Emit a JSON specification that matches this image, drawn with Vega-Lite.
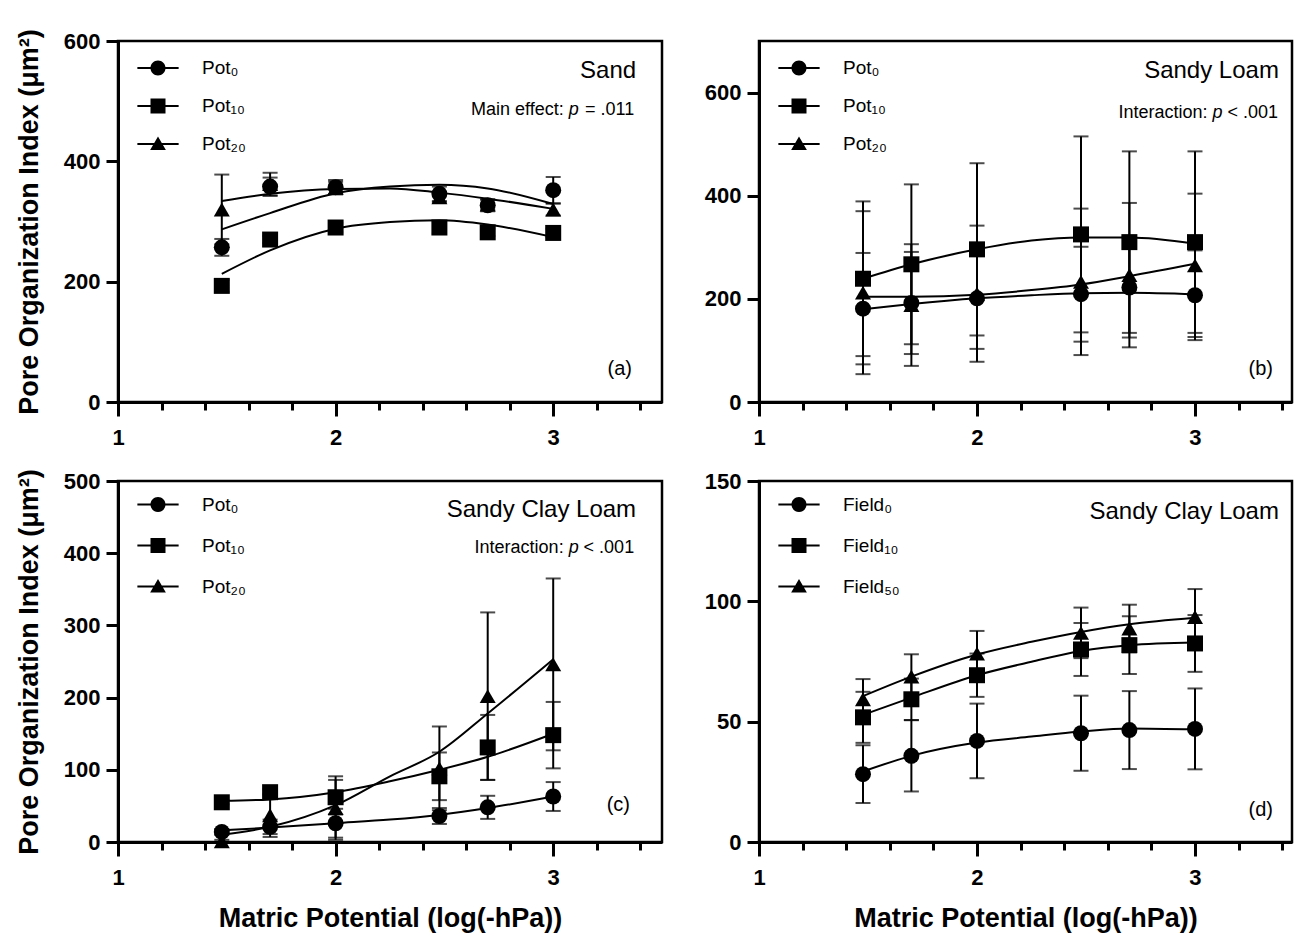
{
  "$schema": "https://vega.github.io/schema/vega-lite/v6.json",
  "background": "white",
  "padding": {"left": 14, "top": 27, "right": 0, "bottom": 0},
  "datasets": {
    "pts": [
      {"p":"a","s":"Pot₀","x":1.477,"v":257,"e":14},{"p":"a","s":"Pot₀","x":1.699,"v":358,"e":15},{"p":"a","s":"Pot₀","x":2,"v":357,"e":12},{"p":"a","s":"Pot₀","x":2.477,"v":346,"e":12},{"p":"a","s":"Pot₀","x":2.699,"v":327,"e":10},{"p":"a","s":"Pot₀","x":3,"v":352,"e":22},
      {"p":"a","s":"Pot₁₀","x":1.477,"v":193,"e":10},{"p":"a","s":"Pot₁₀","x":1.699,"v":270,"e":6},{"p":"a","s":"Pot₁₀","x":2,"v":290,"e":8},{"p":"a","s":"Pot₁₀","x":2.477,"v":290,"e":10},{"p":"a","s":"Pot₁₀","x":2.699,"v":282,"e":6},{"p":"a","s":"Pot₁₀","x":3,"v":281,"e":7},
      {"p":"a","s":"Pot₂₀","x":1.477,"v":320,"e":58},{"p":"a","s":"Pot₂₀","x":1.699,"v":362,"e":19},{"p":"a","s":"Pot₂₀","x":2,"v":356,"e":10},{"p":"a","s":"Pot₂₀","x":2.477,"v":340,"e":8},{"p":"a","s":"Pot₂₀","x":2.699,"v":328,"e":8},{"p":"a","s":"Pot₂₀","x":3,"v":320,"e":10},
      {"p":"b","s":"Pot₀","x":1.477,"v":181,"e":108},{"p":"b","s":"Pot₀","x":1.699,"v":192,"e":99},{"p":"b","s":"Pot₀","x":2,"v":201,"e":98},{"p":"b","s":"Pot₀","x":2.477,"v":209,"e":92},{"p":"b","s":"Pot₀","x":2.699,"v":222,"e":97},{"p":"b","s":"Pot₀","x":3,"v":207,"e":87},
      {"p":"b","s":"Pot₁₀","x":1.477,"v":239,"e":150},{"p":"b","s":"Pot₁₀","x":1.699,"v":267,"e":155},{"p":"b","s":"Pot₁₀","x":2,"v":296,"e":167},{"p":"b","s":"Pot₁₀","x":2.477,"v":325,"e":190},{"p":"b","s":"Pot₁₀","x":2.699,"v":310,"e":176},{"p":"b","s":"Pot₁₀","x":3,"v":310,"e":176},
      {"p":"b","s":"Pot₂₀","x":1.477,"v":212,"e":158},{"p":"b","s":"Pot₂₀","x":1.699,"v":188,"e":118},{"p":"b","s":"Pot₂₀","x":2,"v":210,"e":132},{"p":"b","s":"Pot₂₀","x":2.477,"v":233,"e":142},{"p":"b","s":"Pot₂₀","x":2.699,"v":246,"e":140},{"p":"b","s":"Pot₂₀","x":3,"v":265,"e":139},
      {"p":"c","s":"Pot₀","x":1.477,"v":14,"e":4},{"p":"c","s":"Pot₀","x":1.699,"v":21,"e":10},{"p":"c","s":"Pot₀","x":2,"v":26,"e":20},{"p":"c","s":"Pot₀","x":2.477,"v":36,"e":11},{"p":"c","s":"Pot₀","x":2.699,"v":48,"e":16},{"p":"c","s":"Pot₀","x":3,"v":63,"e":20},
      {"p":"c","s":"Pot₁₀","x":1.477,"v":55,"e":3},{"p":"c","s":"Pot₁₀","x":1.699,"v":69,"e":4},{"p":"c","s":"Pot₁₀","x":2,"v":62,"e":24},{"p":"c","s":"Pot₁₀","x":2.477,"v":91,"e":33},{"p":"c","s":"Pot₁₀","x":2.699,"v":131,"e":45},{"p":"c","s":"Pot₁₀","x":3,"v":148,"e":46},
      {"p":"c","s":"Pot₂₀","x":1.477,"v":1,"e":2},{"p":"c","s":"Pot₂₀","x":1.699,"v":37,"e":30},{"p":"c","s":"Pot₂₀","x":2,"v":47,"e":44},{"p":"c","s":"Pot₂₀","x":2.477,"v":102,"e":58},{"p":"c","s":"Pot₂₀","x":2.699,"v":202,"e":116},{"p":"c","s":"Pot₂₀","x":3,"v":246,"e":119},
      {"p":"d","s":"Field₀","x":1.477,"v":28.2,"e":12},{"p":"d","s":"Field₀","x":1.699,"v":35.8,"e":14.8},{"p":"d","s":"Field₀","x":2,"v":42,"e":15.5},{"p":"d","s":"Field₀","x":2.477,"v":45.2,"e":15.6},{"p":"d","s":"Field₀","x":2.699,"v":46.5,"e":16.2},{"p":"d","s":"Field₀","x":3,"v":47,"e":16.8},
      {"p":"d","s":"Field₁₀","x":1.477,"v":51.8,"e":10.6},{"p":"d","s":"Field₁₀","x":1.699,"v":59.3,"e":8.6},{"p":"d","s":"Field₁₀","x":2,"v":69.3,"e":9},{"p":"d","s":"Field₁₀","x":2.477,"v":80,"e":11},{"p":"d","s":"Field₁₀","x":2.699,"v":81.8,"e":12},{"p":"d","s":"Field₁₀","x":3,"v":82.5,"e":11.8},
      {"p":"d","s":"Field₅₀","x":1.477,"v":59.3,"e":8.4},{"p":"d","s":"Field₅₀","x":1.699,"v":68.7,"e":9.3},{"p":"d","s":"Field₅₀","x":2,"v":78.3,"e":9.4},{"p":"d","s":"Field₅₀","x":2.477,"v":86.9,"e":10.5},{"p":"d","s":"Field₅₀","x":2.699,"v":88.7,"e":9.9},{"p":"d","s":"Field₅₀","x":3,"v":93.5,"e":11.6}
    ],
    "fit": [
      {"p":"a","s":"Pot₀","x":1.477,"v":287},{"p":"a","s":"Pot₀","x":1.699,"v":314},{"p":"a","s":"Pot₀","x":2,"v":347},{"p":"a","s":"Pot₀","x":2.25,"v":358},{"p":"a","s":"Pot₀","x":2.477,"v":361},{"p":"a","s":"Pot₀","x":2.699,"v":355},{"p":"a","s":"Pot₀","x":3,"v":329},
      {"p":"a","s":"Pot₁₀","x":1.477,"v":213},{"p":"a","s":"Pot₁₀","x":1.699,"v":252},{"p":"a","s":"Pot₁₀","x":2,"v":288},{"p":"a","s":"Pot₁₀","x":2.25,"v":299},{"p":"a","s":"Pot₁₀","x":2.477,"v":302},{"p":"a","s":"Pot₁₀","x":2.699,"v":295},{"p":"a","s":"Pot₁₀","x":3,"v":274},
      {"p":"a","s":"Pot₂₀","x":1.477,"v":334},{"p":"a","s":"Pot₂₀","x":1.699,"v":346},{"p":"a","s":"Pot₂₀","x":2,"v":354},{"p":"a","s":"Pot₂₀","x":2.25,"v":355},{"p":"a","s":"Pot₂₀","x":2.477,"v":348},{"p":"a","s":"Pot₂₀","x":2.699,"v":338},{"p":"a","s":"Pot₂₀","x":3,"v":321},
      {"p":"b","s":"Pot₀","x":1.477,"v":180},{"p":"b","s":"Pot₀","x":1.699,"v":190},{"p":"b","s":"Pot₀","x":2,"v":201},{"p":"b","s":"Pot₀","x":2.25,"v":207},{"p":"b","s":"Pot₀","x":2.477,"v":211},{"p":"b","s":"Pot₀","x":2.699,"v":212},{"p":"b","s":"Pot₀","x":3,"v":209},
      {"p":"b","s":"Pot₁₀","x":1.477,"v":239},{"p":"b","s":"Pot₁₀","x":1.699,"v":267},{"p":"b","s":"Pot₁₀","x":2,"v":296},{"p":"b","s":"Pot₁₀","x":2.25,"v":313},{"p":"b","s":"Pot₁₀","x":2.477,"v":319},{"p":"b","s":"Pot₁₀","x":2.699,"v":319},{"p":"b","s":"Pot₁₀","x":3,"v":307},
      {"p":"b","s":"Pot₂₀","x":1.477,"v":204},{"p":"b","s":"Pot₂₀","x":1.699,"v":204},{"p":"b","s":"Pot₂₀","x":2,"v":208},{"p":"b","s":"Pot₂₀","x":2.25,"v":217},{"p":"b","s":"Pot₂₀","x":2.477,"v":228},{"p":"b","s":"Pot₂₀","x":2.699,"v":244},{"p":"b","s":"Pot₂₀","x":3,"v":268},
      {"p":"c","s":"Pot₀","x":1.477,"v":16},{"p":"c","s":"Pot₀","x":1.699,"v":20},{"p":"c","s":"Pot₀","x":2,"v":26},{"p":"c","s":"Pot₀","x":2.25,"v":31},{"p":"c","s":"Pot₀","x":2.477,"v":37.5},{"p":"c","s":"Pot₀","x":2.699,"v":47},{"p":"c","s":"Pot₀","x":3,"v":63},
      {"p":"c","s":"Pot₁₀","x":1.477,"v":57},{"p":"c","s":"Pot₁₀","x":1.699,"v":59},{"p":"c","s":"Pot₁₀","x":2,"v":69},{"p":"c","s":"Pot₁₀","x":2.25,"v":84},{"p":"c","s":"Pot₁₀","x":2.477,"v":100},{"p":"c","s":"Pot₁₀","x":2.699,"v":118},{"p":"c","s":"Pot₁₀","x":3,"v":150},
      {"p":"c","s":"Pot₂₀","x":1.477,"v":10},{"p":"c","s":"Pot₂₀","x":1.699,"v":21},{"p":"c","s":"Pot₂₀","x":2,"v":51},{"p":"c","s":"Pot₂₀","x":2.25,"v":91},{"p":"c","s":"Pot₂₀","x":2.477,"v":125},{"p":"c","s":"Pot₂₀","x":2.699,"v":178},{"p":"c","s":"Pot₂₀","x":3,"v":253},
      {"p":"d","s":"Field₀","x":1.477,"v":29.3},{"p":"d","s":"Field₀","x":1.699,"v":35.8},{"p":"d","s":"Field₀","x":2,"v":41.3},{"p":"d","s":"Field₀","x":2.25,"v":43.8},{"p":"d","s":"Field₀","x":2.477,"v":45.9},{"p":"d","s":"Field₀","x":2.699,"v":47.2},{"p":"d","s":"Field₀","x":3,"v":46.8},
      {"p":"d","s":"Field₁₀","x":1.477,"v":52.8},{"p":"d","s":"Field₁₀","x":1.699,"v":60},{"p":"d","s":"Field₁₀","x":2,"v":69.3},{"p":"d","s":"Field₁₀","x":2.25,"v":74.9},{"p":"d","s":"Field₁₀","x":2.477,"v":79.4},{"p":"d","s":"Field₁₀","x":2.699,"v":81.8},{"p":"d","s":"Field₁₀","x":3,"v":82.9},
      {"p":"d","s":"Field₅₀","x":1.477,"v":60.6},{"p":"d","s":"Field₅₀","x":1.699,"v":68.7},{"p":"d","s":"Field₅₀","x":2,"v":77.9},{"p":"d","s":"Field₅₀","x":2.25,"v":83.2},{"p":"d","s":"Field₅₀","x":2.477,"v":87.3},{"p":"d","s":"Field₅₀","x":2.699,"v":90.5},{"p":"d","s":"Field₅₀","x":3,"v":93.2}
    ]
  },
  "columns": 2,
  "spacing": {"row": 17, "column": 39},
  "resolve": {"scale": {"x": "independent", "y": "independent", "shape": "independent"}, "legend": {"shape": "independent"}},
  "concat": [
    {
      "width": 544, "height": 361,
      "resolve": {"scale": {"shape": "independent"}, "legend": {"shape": "independent"}},
      "layer": [
        {"data": {"name": "fit"}, "transform": [{"filter": "datum.p === 'a'"}],
         "mark": {"type": "line", "interpolate": "monotone", "color": "black", "strokeWidth": 2},
         "encoding": {
           "x": {"field": "x", "type": "quantitative", "title": null, "scale": {"domain": [1, 3.5], "nice": false, "zero": false},
                 "axis": {"values": [1,1.2,1.4,1.6,1.8,2,2.2,2.4,2.6,2.8,3,3.2,3.4], "labelExpr": "datum.value % 1 === 0 ? '' + datum.value : ''", "tickSize": {"condition": {"test": "datum.value % 1 === 0", "value": 14}, "value": 8}, "labelPadding": 11, "labelFlush": false, "labelOverlap": false}},
           "y": {"field": "v", "type": "quantitative", "title": "Pore Organization Index (μm²)", "scale": {"domain": [0, 600], "nice": false},
                 "axis": {"values": [0,200,400,600], "tickSize": 12, "labelPadding": 6, "titlePadding": 20, "labelFlush": false}},
           "detail": {"field": "s"}
         }},
        {"data": {"name": "pts"}, "transform": [{"filter": "datum.p === 'a'"}],
         "mark": {"type": "errorbar", "color": "black", "thickness": 2, "ticks": {"size": 15, "thickness": 2, "color": "black"}},
         "encoding": {"x": {"field": "x", "type": "quantitative", "title": null}, "y": {"field": "v", "type": "quantitative", "title": "Pore Organization Index (μm²)"}, "yError": {"field": "e"}}},
        {"data": {"name": "pts"}, "transform": [{"filter": "datum.p === 'a'"}],
         "mark": {"type": "point", "filled": true, "size": 256, "color": "black", "opacity": 1},
         "encoding": {"x": {"field": "x", "type": "quantitative", "title": null}, "y": {"field": "v", "type": "quantitative", "title": "Pore Organization Index (μm²)"},
           "shape": {"field": "s", "type": "nominal", "scale": {"domain": ["Pot₀","Pot₁₀","Pot₂₀"], "range": ["circle","square","triangle-up"]}, "legend": null}}},
        {"data": {"name": "pts"}, "transform": [{"filter": "datum.p === 'a'"}],
         "mark": {"type": "point", "filled": true, "size": 225, "color": "black", "opacity": 0},
         "encoding": {"x": {"field": "x", "type": "quantitative", "title": null}, "y": {"field": "v", "type": "quantitative", "title": "Pore Organization Index (μm²)"},
           "shape": {"field": "s", "type": "nominal", "scale": {"domain": ["Pot₀","Pot₁₀","Pot₂₀"], "range": ["M-2.75,-0.14H2.75V0.14H-2.75Z M1,0A1,1,0,1,1,-1,0A1,1,0,1,1,1,0Z", "M-2.75,-0.14H2.75V0.14H-2.75Z M-1,-1H1V1H-1Z", "M-2.75,-0.14H2.75V0.14H-2.75Z M0,-1L1.05,0.8H-1.05Z"]},
             "legend": {"orient": "none", "legendX": 30.5, "legendY": 17.5, "rowPadding": 15, "direction": "vertical"}}}},
        {"data": {"values": [{}]}, "mark": {"type": "text", "align": "right", "baseline": "middle", "fontSize": 24, "color": "black"},
         "encoding": {"x": {"datum": 3.381, "type": "quantitative"}, "y": {"datum": 550, "type": "quantitative"}, "text": {"value": "Sand"}}},
        {"data": {"values": [{}]}, "mark": {"type": "text", "align": "right", "baseline": "middle", "fontSize": 18, "color": "black"},
         "encoding": {"x": {"datum": 3.372, "type": "quantitative"}, "y": {"datum": 485, "type": "quantitative"}, "text": {"value": "= .011"}}},
        {"data": {"values": [{}]}, "mark": {"type": "text", "align": "right", "baseline": "middle", "fontSize": 18, "fontStyle": "italic", "color": "black", "dx": -55.5},
         "encoding": {"x": {"datum": 3.372, "type": "quantitative"}, "y": {"datum": 485, "type": "quantitative"}, "text": {"value": "p"}}},
        {"data": {"values": [{}]}, "mark": {"type": "text", "align": "right", "baseline": "middle", "fontSize": 18, "color": "black", "dx": -70.5},
         "encoding": {"x": {"datum": 3.372, "type": "quantitative"}, "y": {"datum": 485, "type": "quantitative"}, "text": {"value": "Main effect:"}}},
        {"data": {"values": [{}]}, "mark": {"type": "text", "align": "right", "baseline": "middle", "fontSize": 20, "color": "black"},
         "encoding": {"x": {"datum": 3.362, "type": "quantitative"}, "y": {"datum": 55, "type": "quantitative"}, "text": {"value": "(a)"}}}
      ]
    },
    {
      "width": 533, "height": 361,
      "resolve": {"scale": {"shape": "independent"}, "legend": {"shape": "independent"}},
      "layer": [
        {"data": {"name": "fit"}, "transform": [{"filter": "datum.p === 'b'"}],
         "mark": {"type": "line", "interpolate": "monotone", "color": "black", "strokeWidth": 2},
         "encoding": {
           "x": {"field": "x", "type": "quantitative", "title": null, "scale": {"domain": [1, 3.445], "nice": false, "zero": false},
                 "axis": {"values": [1,1.2,1.4,1.6,1.8,2,2.2,2.4,2.6,2.8,3,3.2,3.4], "labelExpr": "datum.value % 1 === 0 ? '' + datum.value : ''", "tickSize": {"condition": {"test": "datum.value % 1 === 0", "value": 14}, "value": 8}, "labelPadding": 11, "labelFlush": false, "labelOverlap": false}},
           "y": {"field": "v", "type": "quantitative", "title": null, "scale": {"domain": [0, 700], "nice": false},
                 "axis": {"values": [0,200,400,600], "tickSize": 12, "labelPadding": 6, "labelFlush": false}},
           "detail": {"field": "s"}
         }},
        {"data": {"name": "pts"}, "transform": [{"filter": "datum.p === 'b'"}],
         "mark": {"type": "errorbar", "color": "black", "thickness": 2, "ticks": {"size": 15, "thickness": 2, "color": "black"}},
         "encoding": {"x": {"field": "x", "type": "quantitative", "title": null}, "y": {"field": "v", "type": "quantitative", "title": null}, "yError": {"field": "e"}}},
        {"data": {"name": "pts"}, "transform": [{"filter": "datum.p === 'b'"}],
         "mark": {"type": "point", "filled": true, "size": 256, "color": "black", "opacity": 1},
         "encoding": {"x": {"field": "x", "type": "quantitative", "title": null}, "y": {"field": "v", "type": "quantitative", "title": null},
           "shape": {"field": "s", "type": "nominal", "scale": {"domain": ["Pot₀","Pot₁₀","Pot₂₀"], "range": ["circle","square","triangle-up"]}, "legend": null}}},
        {"data": {"name": "pts"}, "transform": [{"filter": "datum.p === 'b'"}],
         "mark": {"type": "point", "filled": true, "size": 225, "color": "black", "opacity": 0},
         "encoding": {"x": {"field": "x", "type": "quantitative", "title": null}, "y": {"field": "v", "type": "quantitative", "title": null},
           "shape": {"field": "s", "type": "nominal", "scale": {"domain": ["Pot₀","Pot₁₀","Pot₂₀"], "range": ["M-2.75,-0.14H2.75V0.14H-2.75Z M1,0A1,1,0,1,1,-1,0A1,1,0,1,1,1,0Z", "M-2.75,-0.14H2.75V0.14H-2.75Z M-1,-1H1V1H-1Z", "M-2.75,-0.14H2.75V0.14H-2.75Z M0,-1L1.05,0.8H-1.05Z"]},
             "legend": {"orient": "none", "legendX": 30.5, "legendY": 17.5, "rowPadding": 15, "direction": "vertical"}}}},
        {"data": {"values": [{}]}, "mark": {"type": "text", "align": "right", "baseline": "middle", "fontSize": 24, "color": "black"},
         "encoding": {"x": {"datum": 3.385, "type": "quantitative"}, "y": {"datum": 641, "type": "quantitative"}, "text": {"value": "Sandy Loam"}}},
        {"data": {"values": [{}]}, "mark": {"type": "text", "align": "right", "baseline": "middle", "fontSize": 18, "color": "black"},
         "encoding": {"x": {"datum": 3.381, "type": "quantitative"}, "y": {"datum": 561, "type": "quantitative"}, "text": {"value": "< .001"}}},
        {"data": {"values": [{}]}, "mark": {"type": "text", "align": "right", "baseline": "middle", "fontSize": 18, "fontStyle": "italic", "color": "black", "dx": -55.5},
         "encoding": {"x": {"datum": 3.381, "type": "quantitative"}, "y": {"datum": 561, "type": "quantitative"}, "text": {"value": "p"}}},
        {"data": {"values": [{}]}, "mark": {"type": "text", "align": "right", "baseline": "middle", "fontSize": 18, "color": "black", "dx": -70.5},
         "encoding": {"x": {"datum": 3.381, "type": "quantitative"}, "y": {"datum": 561, "type": "quantitative"}, "text": {"value": "Interaction:"}}},
        {"data": {"values": [{}]}, "mark": {"type": "text", "align": "right", "baseline": "middle", "fontSize": 20, "color": "black"},
         "encoding": {"x": {"datum": 3.358, "type": "quantitative"}, "y": {"datum": 64, "type": "quantitative"}, "text": {"value": "(b)"}}}
      ]
    },
    {
      "width": 544, "height": 361,
      "resolve": {"scale": {"shape": "independent"}, "legend": {"shape": "independent"}},
      "layer": [
        {"data": {"name": "fit"}, "transform": [{"filter": "datum.p === 'c'"}],
         "mark": {"type": "line", "interpolate": "monotone", "color": "black", "strokeWidth": 2},
         "encoding": {
           "x": {"field": "x", "type": "quantitative", "title": "Matric Potential (log(-hPa))", "scale": {"domain": [1, 3.5], "nice": false, "zero": false},
                 "axis": {"titlePadding": 17, "values": [1,1.2,1.4,1.6,1.8,2,2.2,2.4,2.6,2.8,3,3.2,3.4], "labelExpr": "datum.value % 1 === 0 ? '' + datum.value : ''", "tickSize": {"condition": {"test": "datum.value % 1 === 0", "value": 14}, "value": 8}, "labelPadding": 11, "labelFlush": false, "labelOverlap": false}},
           "y": {"field": "v", "type": "quantitative", "title": "Pore Organization Index (μm²)", "scale": {"domain": [0, 500], "nice": false},
                 "axis": {"values": [0,100,200,300,400,500], "tickSize": 12, "labelPadding": 6, "titlePadding": 20, "labelFlush": false}},
           "detail": {"field": "s"}
         }},
        {"data": {"name": "pts"}, "transform": [{"filter": "datum.p === 'c'"}],
         "mark": {"type": "errorbar", "color": "black", "thickness": 2, "ticks": {"size": 15, "thickness": 2, "color": "black"}},
         "encoding": {"x": {"field": "x", "type": "quantitative", "title": "Matric Potential (log(-hPa))"}, "y": {"field": "v", "type": "quantitative", "title": "Pore Organization Index (μm²)"}, "yError": {"field": "e"}}},
        {"data": {"name": "pts"}, "transform": [{"filter": "datum.p === 'c'"}],
         "mark": {"type": "point", "filled": true, "size": 256, "color": "black", "opacity": 1},
         "encoding": {"x": {"field": "x", "type": "quantitative", "title": "Matric Potential (log(-hPa))"}, "y": {"field": "v", "type": "quantitative", "title": "Pore Organization Index (μm²)"},
           "shape": {"field": "s", "type": "nominal", "scale": {"domain": ["Pot₀","Pot₁₀","Pot₂₀"], "range": ["circle","square","triangle-up"]}, "legend": null}}},
        {"data": {"name": "pts"}, "transform": [{"filter": "datum.p === 'c'"}],
         "mark": {"type": "point", "filled": true, "size": 225, "color": "black", "opacity": 0},
         "encoding": {"x": {"field": "x", "type": "quantitative", "title": "Matric Potential (log(-hPa))"}, "y": {"field": "v", "type": "quantitative", "title": "Pore Organization Index (μm²)"},
           "shape": {"field": "s", "type": "nominal", "scale": {"domain": ["Pot₀","Pot₁₀","Pot₂₀"], "range": ["M-2.75,-0.14H2.75V0.14H-2.75Z M1,0A1,1,0,1,1,-1,0A1,1,0,1,1,1,0Z", "M-2.75,-0.14H2.75V0.14H-2.75Z M-1,-1H1V1H-1Z", "M-2.75,-0.14H2.75V0.14H-2.75Z M0,-1L1.05,0.8H-1.05Z"]},
             "legend": {"orient": "none", "legendX": 30.5, "legendY": 14, "rowPadding": 18, "direction": "vertical"}}}},
        {"data": {"values": [{}]}, "mark": {"type": "text", "align": "right", "baseline": "middle", "fontSize": 24, "color": "black"},
         "encoding": {"x": {"datum": 3.381, "type": "quantitative"}, "y": {"datum": 460, "type": "quantitative"}, "text": {"value": "Sandy Clay Loam"}}},
        {"data": {"values": [{}]}, "mark": {"type": "text", "align": "right", "baseline": "middle", "fontSize": 18, "color": "black"},
         "encoding": {"x": {"datum": 3.372, "type": "quantitative"}, "y": {"datum": 407, "type": "quantitative"}, "text": {"value": "< .001"}}},
        {"data": {"values": [{}]}, "mark": {"type": "text", "align": "right", "baseline": "middle", "fontSize": 18, "fontStyle": "italic", "color": "black", "dx": -55.5},
         "encoding": {"x": {"datum": 3.372, "type": "quantitative"}, "y": {"datum": 407, "type": "quantitative"}, "text": {"value": "p"}}},
        {"data": {"values": [{}]}, "mark": {"type": "text", "align": "right", "baseline": "middle", "fontSize": 18, "color": "black", "dx": -70.5},
         "encoding": {"x": {"datum": 3.372, "type": "quantitative"}, "y": {"datum": 407, "type": "quantitative"}, "text": {"value": "Interaction:"}}},
        {"data": {"values": [{}]}, "mark": {"type": "text", "align": "right", "baseline": "middle", "fontSize": 20, "color": "black"},
         "encoding": {"x": {"datum": 3.353, "type": "quantitative"}, "y": {"datum": 51, "type": "quantitative"}, "text": {"value": "(c)"}}}
      ]
    },
    {
      "width": 533, "height": 361,
      "resolve": {"scale": {"shape": "independent"}, "legend": {"shape": "independent"}},
      "layer": [
        {"data": {"name": "fit"}, "transform": [{"filter": "datum.p === 'd'"}],
         "mark": {"type": "line", "interpolate": "monotone", "color": "black", "strokeWidth": 2},
         "encoding": {
           "x": {"field": "x", "type": "quantitative", "title": "Matric Potential (log(-hPa))", "scale": {"domain": [1, 3.445], "nice": false, "zero": false},
                 "axis": {"titlePadding": 17, "values": [1,1.2,1.4,1.6,1.8,2,2.2,2.4,2.6,2.8,3,3.2,3.4], "labelExpr": "datum.value % 1 === 0 ? '' + datum.value : ''", "tickSize": {"condition": {"test": "datum.value % 1 === 0", "value": 14}, "value": 8}, "labelPadding": 11, "labelFlush": false, "labelOverlap": false}},
           "y": {"field": "v", "type": "quantitative", "title": null, "scale": {"domain": [0, 150], "nice": false},
                 "axis": {"values": [0,50,100,150], "tickSize": 12, "labelPadding": 6, "labelFlush": false}},
           "detail": {"field": "s"}
         }},
        {"data": {"name": "pts"}, "transform": [{"filter": "datum.p === 'd'"}],
         "mark": {"type": "errorbar", "color": "black", "thickness": 2, "ticks": {"size": 15, "thickness": 2, "color": "black"}},
         "encoding": {"x": {"field": "x", "type": "quantitative", "title": "Matric Potential (log(-hPa))"}, "y": {"field": "v", "type": "quantitative", "title": null}, "yError": {"field": "e"}}},
        {"data": {"name": "pts"}, "transform": [{"filter": "datum.p === 'd'"}],
         "mark": {"type": "point", "filled": true, "size": 256, "color": "black", "opacity": 1},
         "encoding": {"x": {"field": "x", "type": "quantitative", "title": "Matric Potential (log(-hPa))"}, "y": {"field": "v", "type": "quantitative", "title": null},
           "shape": {"field": "s", "type": "nominal", "scale": {"domain": ["Field₀","Field₁₀","Field₅₀"], "range": ["circle","square","triangle-up"]}, "legend": null}}},
        {"data": {"name": "pts"}, "transform": [{"filter": "datum.p === 'd'"}],
         "mark": {"type": "point", "filled": true, "size": 225, "color": "black", "opacity": 0},
         "encoding": {"x": {"field": "x", "type": "quantitative", "title": "Matric Potential (log(-hPa))"}, "y": {"field": "v", "type": "quantitative", "title": null},
           "shape": {"field": "s", "type": "nominal", "scale": {"domain": ["Field₀","Field₁₀","Field₅₀"], "range": ["M-2.75,-0.14H2.75V0.14H-2.75Z M1,0A1,1,0,1,1,-1,0A1,1,0,1,1,1,0Z", "M-2.75,-0.14H2.75V0.14H-2.75Z M-1,-1H1V1H-1Z", "M-2.75,-0.14H2.75V0.14H-2.75Z M0,-1L1.05,0.8H-1.05Z"]},
             "legend": {"orient": "none", "legendX": 30.5, "legendY": 14, "rowPadding": 18, "direction": "vertical"}}}},
        {"data": {"values": [{}]}, "mark": {"type": "text", "align": "right", "baseline": "middle", "fontSize": 24, "color": "black"},
         "encoding": {"x": {"datum": 3.385, "type": "quantitative"}, "y": {"datum": 137, "type": "quantitative"}, "text": {"value": "Sandy Clay Loam"}}},
        {"data": {"values": [{}]}, "mark": {"type": "text", "align": "right", "baseline": "middle", "fontSize": 20, "color": "black"},
         "encoding": {"x": {"datum": 3.358, "type": "quantitative"}, "y": {"datum": 13.3, "type": "quantitative"}, "text": {"value": "(d)"}}}
      ]
    }
  ],
  "config": {
    "font": "Liberation Sans",
    "view": {"stroke": "black", "strokeWidth": 2.5},
    "axis": {"domainColor": "black", "domainWidth": 3, "tickColor": "black", "tickWidth": 3, "grid": false,
      "labelFont": "Liberation Sans", "labelFontWeight": "bold", "labelFontSize": 22, "labelColor": "black",
      "titleFont": "Liberation Sans", "titleFontWeight": "bold", "titleFontSize": 27, "titleColor": "black"},
    "legend": {"title": null, "labelFont": "Liberation Sans", "labelFontSize": 19, "labelColor": "black", "labelOffset": 34.5,
      "symbolSize": 225, "symbolOpacity": 1, "symbolFillColor": "black", "symbolStrokeColor": "black", "symbolStrokeWidth": 2, "padding": 0},
    "text": {"font": "Liberation Sans"}
  }
}
